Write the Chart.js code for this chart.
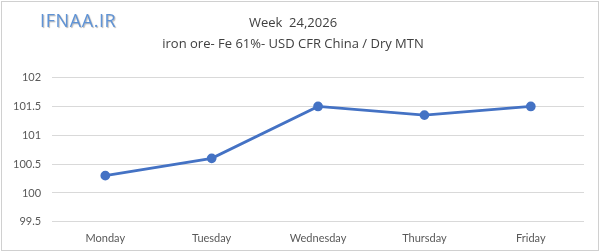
<!DOCTYPE html>
<html>
<head>
<meta charset="utf-8">
<script src="https://cdn.jsdelivr.net/npm/chart.js@4"></script>
<style>
  body { margin: 0; background: #fff; }
  #wrap { position: absolute; left: 1px; top: 1px; width: 596px; height: 248px; border: 1px solid #d0d0d0; }
  #logo { position: absolute; left: 40px; top: 8px; font-family: "Open Sans", sans-serif; font-size: 18px; color: #5f93d6; text-shadow: 1px 1px 1px #b8b8b8; letter-spacing: 0.6px; }
  canvas { position: absolute; left: 0; top: 0; }
</style>
</head>
<body>
<div id="wrap"></div>
<canvas id="lineChart" width="600" height="252"></canvas>
<div id="logo">IFNAA.IR</div>
<script>
document.addEventListener("DOMContentLoaded", function () {
    // dati
    const days = ["Monday", "Tuesday", "Wednesday", "Thursday", "Friday"];
    const prices = [100.3, 100.6, 101.5, 101.35, 101.5];
    const titleLines = ["Week  24,2026", "iron ore- Fe 61%- USD CFR China / Dry MTN"];

    const ctx = document.getElementById('lineChart').getContext('2d');
    new Chart(ctx, {
        type: 'line',
        data: {
            labels: days,
            datasets: [{
                data: prices,
                borderColor: '#4472c4',
                backgroundColor: '#4472c4',
                borderWidth: 2.75,
                pointRadius: 3.5,
                pointBackgroundColor: '#4472c4',
                tension: 0
            }]
        },
        options: {
            responsive: false,
            animation: false,
            layout: { padding: { left: 2, right: 16, top: 6, bottom: 5 } },
            scales: {
                y: {
                    min: 99.5,
                    max: 102,
                    ticks: {
                        stepSize: 0.5,
                        color: '#595959',
                        font: { family: 'Lato', size: 11 },
                        padding: 11,
                        callback: function (v) { return String(v); }
                    },
                    grid: { color: '#d9d9d9', drawTicks: false },
                    border: { display: false }
                },
                x: {
                    offset: true,
                    ticks: { color: '#595959', font: { family: 'Lato', size: 11 }, padding: 2 },
                    grid: { display: false },
                    border: { display: false }
                }
            },
            plugins: {
                legend: { display: false },
                tooltip: { enabled: false },
                title: {
                    display: true,
                    text: titleLines,
                    color: '#404040',
                    font: { family: 'Open Sans', size: 13, weight: 'normal', lineHeight: 1.6 },
                    padding: { top: 7, bottom: 23 }
                }
            }
        }
    });
});
</script>
</body>
</html>
